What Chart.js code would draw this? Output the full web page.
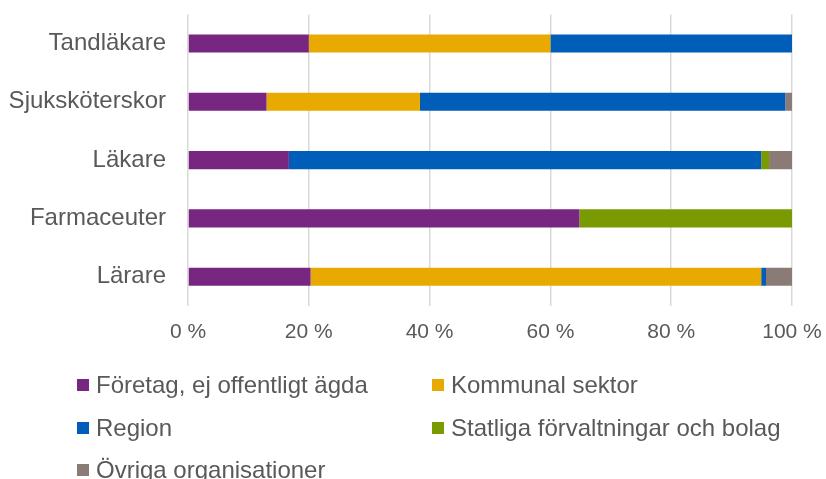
<!DOCTYPE html>
<html>
<head>
<meta charset="utf-8">
<script src="https://cdn.jsdelivr.net/npm/chart.js@4/dist/chart.umd.min.js"></script>
<style>
  html, body { margin: 0; padding: 0; background: #fff; }
  #wrap { position: relative; width: 826px; height: 479px; overflow: hidden; font-family: "Liberation Sans", Arial, sans-serif; }
  #chartBox { position: absolute; left: 0; top: -22px; width: 826px; height: 381px; }
  #legend { position: absolute; left: 0; top: 0; width: 826px; height: 479px; pointer-events: none; }
  .li { position: absolute; display: flex; align-items: center; font-size: 24px; color: #595959; white-space: nowrap; }
  .sw { width: 12px; height: 12px; margin-right: 7px; }
</style>
</head>
<body>
<div id="wrap">
  <div id="chartBox"><canvas id="c"></canvas></div>
  <div id="legend"></div>
</div>
<script>
const categories = ["Tandläkare", "Sjuksköterskor", "Läkare", "Farmaceuter", "Lärare"];
const seriesNames = ["Företag, ej offentligt ägda", "Kommunal sektor", "Region", "Statliga förvaltningar och bolag", "Övriga organisationer"];
const foretag   = [20.0, 13.0, 16.7, 64.8, 20.3];
const kommunal  = [40.0, 25.4, 0,    0,    74.6];
const region    = [40.0, 60.5, 78.2, 0,    0.8];
const statliga  = [0,    0,    1.3,  35.2, 0];
const ovriga    = [0,    1.1,  3.8,  0,    4.3];
const tickLabels = ["0 %", "20 %", "40 %", "60 %", "80 %", "100 %"];
const colors = ["#772681", "#E8AA00", "#005EB8", "#7A9A01", "#8B7B77"];

const seriesValues = [foretag, kommunal, region, statliga, ovriga];

const chart = new Chart(document.getElementById("c"), {
  type: "bar",
  data: {
    labels: categories,
    datasets: seriesNames.map((n, i) => ({
      label: n,
      data: seriesValues[i],
      backgroundColor: colors[i],
      borderWidth: 0,
      barPercentage: 0.31,
      categoryPercentage: 1.0
    }))
  },
  options: {
    indexAxis: "y",
    responsive: true,
    maintainAspectRatio: false,
    animation: false,
    layout: { padding: { top: 13, right: 34, left: 0, bottom: 0 } },
    plugins: { legend: { display: false }, tooltip: { enabled: false } },
    scales: {
      x: {
        stacked: true,
        min: 0, max: 100,
        afterFit: (s) => { s.paddingRight = 0; s.paddingLeft = 0; },
        ticks: {
          stepSize: 20,
          padding: 14,
          color: "#595959",
          font: { family: "Liberation Sans", size: 21 },
          callback: (v) => tickLabels[Math.round(v / 20)]
        },
        grid: { color: "#D9D9D9", lineWidth: 1.5, drawTicks: false },
        border: { display: false }
      },
      y: {
        stacked: true,
        afterFit: (s) => { s.width = 188; },
        ticks: {
          padding: 22,
          color: "#595959",
          font: { family: "Liberation Sans", size: 24 }
        },
        grid: { display: false, drawTicks: false },
        border: { display: false }
      }
    }
  }
});

// HTML legend built from chart datasets
const legendPos = [[77, 385], [432, 385], [77, 428], [432, 428], [77, 470]];
const lg = document.getElementById("legend");
chart.data.datasets.forEach((ds, i) => {
  const d = document.createElement("div");
  d.className = "li";
  d.style.left = legendPos[i][0] + "px";
  d.style.top = (legendPos[i][1] - 14) + "px";
  d.style.height = "28px";
  const sw = document.createElement("span");
  sw.className = "sw";
  sw.style.background = ds.backgroundColor;
  const t = document.createElement("span");
  t.textContent = ds.label;
  d.appendChild(sw); d.appendChild(t);
  lg.appendChild(d);
});
</script>
</body>
</html>
